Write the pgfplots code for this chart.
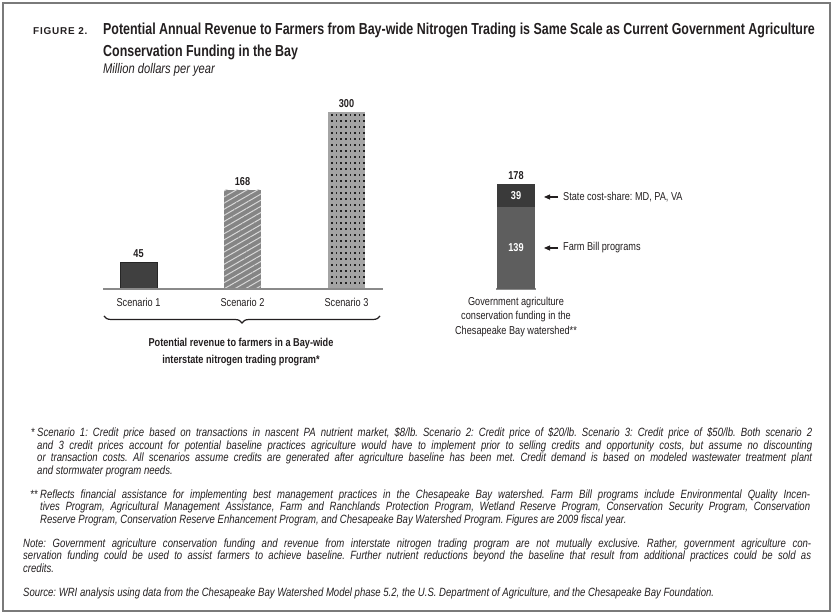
\documentclass[border=0pt]{standalone}
\usepackage{pgfplots}
\pgfplotsset{compat=1.18}
\usepackage{fontspec}
\setmainfont{Liberation Sans}[FakeStretch=0.8]
\newfontfamily\titlefont{Liberation Sans}[FakeStretch=0.78]
\newfontfamily\figfont{Liberation Sans}[LetterSpace=8]
\usetikzlibrary{patterns, patterns.meta, arrows.meta, decorations.pathreplacing}
\pgfdeclarepatternformonly{griddots}{\pgfqpoint{-1bp}{-1bp}}{\pgfqpoint{5.6bp}{7bp}}{\pgfqpoint{4.6bp}{6bp}}{%
  \pgfpathrectangle{\pgfqpoint{0bp}{0bp}}{\pgfqpoint{1.6bp}{1.6bp}}\pgfusepath{fill}}
\definecolor{framec}{HTML}{7A7A7A}
\definecolor{barA}{HTML}{404040}
\definecolor{barB}{HTML}{858585}
\definecolor{hatchc}{HTML}{D8D8D8}
\definecolor{barC}{HTML}{A4A4A4}
\definecolor{dotc}{HTML}{222222}
\definecolor{stkLow}{HTML}{5E5E5E}
\definecolor{stkTop}{HTML}{3A3A3A}
\definecolor{basec}{HTML}{8A8A8A}
\definecolor{ink}{HTML}{231F20}
\newcommand\lab{\fontsize{11.5}{13.5}\selectfont}
\newcommand\fn{\frenchspacing\itshape\fontsize{12}{13}\selectfont}
\begin{document}
\frenchspacing
\begin{tikzpicture}[x=1bp,y=1bp,every node/.style={text=ink}]
\useasboundingbox (0,0) rectangle (833,614);
\draw[framec, line width=1.3bp] (3,3) rectangle (830,611);
% titles
\node[anchor=base west, inner sep=0, font=\figfont\bfseries\fontsize{10}{10}\selectfont] at (33,614-35) {FIGURE 2.};
\node[anchor=base west, inner sep=0, font=\titlefont\bfseries\fontsize{16}{19}\selectfont] at (103,614-35) {Potential Annual Revenue to Farmers from Bay-wide Nitrogen Trading is Same Scale as Current Government Agriculture};
\node[anchor=base west, inner sep=0, font=\titlefont\bfseries\fontsize{16}{19}\selectfont] at (103,614-57) {Conservation Funding in the Bay};
\node[anchor=base west, inner sep=0, font=\itshape\fontsize{14}{15}\selectfont] at (103,614-74) {Million dollars per year};

% scenario bars
\begin{axis}[at={(100bp,325bp)}, anchor=south west, scale only axis, x=1bp, y=0.59bp,
  xmin=100, xmax=560, ymin=0, ymax=320, hide axis, clip=false]
\addplot[ybar, bar width=37bp, bar shift=0pt, fill=barA, draw=black!85] coordinates {(138.5,45)};
\addplot[ybar, bar width=37bp, bar shift=0pt, fill=barB, draw=none,
  postaction={pattern color=hatchc, pattern={Lines[angle=30, distance=5.3bp, line width=1bp]}}] coordinates {(242.5,168)};
\addplot[ybar, bar width=37bp, bar shift=0pt, fill=barC, draw=none,
  postaction={pattern color=dotc, pattern=griddots}] coordinates {(346.5,300)};
\draw[basec, line width=1.5bp] (axis cs:103,0) -- (axis cs:383,0);
\draw[basec, line width=1.5bp] (axis cs:496,0) -- (axis cs:536,0);
\node[anchor=south, font=\bfseries\lab, yshift=1bp] at (axis cs:138.5,45) {45};
\node[anchor=south, font=\bfseries\lab, yshift=1bp] at (axis cs:242.5,168) {168};
\node[anchor=south, font=\bfseries\lab, yshift=1bp] at (axis cs:346.5,300) {300};
\node[anchor=south, font=\bfseries\lab, yshift=1bp] at (axis cs:516,178) {178};
\end{axis}

% government stacked bar
\begin{axis}[at={(100bp,325bp)}, anchor=south west, scale only axis, x=1bp, y=0.59bp,
  xmin=100, xmax=560, ymin=0, ymax=320, hide axis, clip=false, ybar stacked, bar width=38bp]
\addplot[fill=stkLow, draw=none] coordinates {(516,139)};
\addplot[fill=stkTop, draw=none] coordinates {(516,39)};
\coordinate (lowmid) at (axis cs:516,69.5);
\coordinate (topmid) at (axis cs:516,158.5);
\end{axis}
\node[font=\bfseries\lab, text=white] at (lowmid) {139};
\node[font=\bfseries\lab, text=white] at (topmid) {39};

% arrows and callouts
\draw[-{Triangle[length=6bp,width=5bp]}, line width=1.1bp, ink] (558,614-197) -- (544,614-197);
\draw[-{Triangle[length=6bp,width=5bp]}, line width=1.1bp, ink] (558,614-248) -- (544,614-248);
\node[anchor=west, inner sep=0, font=\lab] at (563,614-197) {State cost-share: MD, PA, VA};
\node[anchor=west, inner sep=0, font=\lab] at (563,614-248) {Farm Bill programs};

% category labels
\node[anchor=base, inner sep=0, font=\lab] at (138.5,614-307) {Scenario 1};
\node[anchor=base, inner sep=0, font=\lab] at (242.5,614-307) {Scenario 2};
\node[anchor=base, inner sep=0, font=\lab] at (346.5,614-307) {Scenario 3};
\draw[ink, line width=1.2bp, decorate, decoration={brace, mirror, amplitude=7bp}] (104,614-316) -- (380,614-316);
\node[anchor=base, inner sep=0, font=\bfseries\lab] at (241,614-347) {Potential revenue to farmers in a Bay-wide};
\node[anchor=base, inner sep=0, font=\bfseries\lab] at (241,614-364) {interstate nitrogen trading program*};
\node[anchor=base, inner sep=0, font=\lab] at (516,614-306) {Government agriculture};
\node[anchor=base, inner sep=0, font=\lab] at (516,614-320) {conservation funding in the};
\node[anchor=base, inner sep=0, font=\lab] at (516,614-335) {Chesapeake Bay watershed**};

% footnotes
\node[anchor=base west, inner sep=0, font=\fn] at (37,614-437) {\vtop{\baselineskip=12.5bp
\hbox to 775bp{\llap{* }Scenario 1: Credit price based on transactions in nascent PA nutrient market, \$8/lb. Scenario 2: Credit price of \$20/lb. Scenario 3: Credit price of \$50/lb. Both scenario 2}
\hbox to 775bp{and 3 credit prices account for potential baseline practices agriculture would have to implement prior to selling credits and opportunity costs, but assume no discounting}
\hbox to 775bp{or transaction costs. All scenarios assume credits are generated after agriculture baseline has been met. Credit demand is based on modeled wastewater treatment plant}
\hbox{and stormwater program needs.}}};
\node[anchor=base west, inner sep=0, font=\fn] at (40,614-498.5) {\vtop{\baselineskip=12.5bp
\hbox to 770bp{\llap{** }Reflects financial assistance for implementing best management practices in the Chesapeake Bay watershed. Farm Bill programs include Environmental Quality Incen-}
\hbox to 770bp{tives Program, Agricultural Management Assistance, Farm and Ranchlands Protection Program, Wetland Reserve Program, Conservation Security Program, Conservation}
\hbox{Reserve Program, Conservation Reserve Enhancement Program, and Chesapeake Bay Watershed Program. Figures are 2009 fiscal year.}}};
\node[anchor=base west, inner sep=0, font=\fn] at (23,614-547.5) {\vtop{\baselineskip=12.5bp
\hbox to 788bp{Note: Government agriculture conservation funding and revenue from interstate nitrogen trading program are not mutually exclusive. Rather, government agriculture con-}
\hbox to 788bp{servation funding could be used to assist farmers to achieve baseline. Further nutrient reductions beyond the baseline that result from additional practices could be sold as}
\hbox{credits.}}};
\node[anchor=base west, inner sep=0, font=\fn] at (23,614-597) {Source: WRI analysis using data from the Chesapeake Bay Watershed Model phase 5.2, the U.S. Department of Agriculture, and the Chesapeake Bay Foundation.};
\end{tikzpicture}
\end{document}
